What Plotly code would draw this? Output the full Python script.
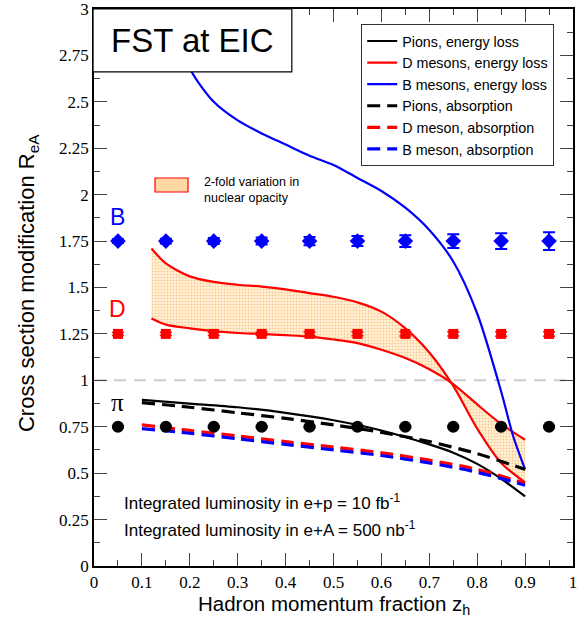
import plotly.graph_objects as go

# ---------------- data ----------------
pt_x = [0.05, 0.15, 0.25, 0.35, 0.45, 0.55, 0.65, 0.75, 0.85, 0.95]
pi_y = [0.75] * 10
pi_err = [0.006] * 10
d_y = [1.25] * 10
d_err = [0.008, 0.008, 0.009, 0.009, 0.010, 0.010, 0.011, 0.011, 0.012, 0.012]
b_y = [1.75] * 10
b_err = [0.010, 0.013, 0.016, 0.019, 0.022, 0.027, 0.032, 0.037, 0.042, 0.048]

b_eloss_x = [0.15, 0.2, 0.25, 0.3, 0.35, 0.4, 0.45, 0.5, 0.55, 0.6, 0.65, 0.7, 0.75, 0.8, 0.85, 0.875, 0.9]
b_eloss_y = [3.05, 2.68, 2.50, 2.40, 2.33, 2.27, 2.21, 2.16, 2.09, 2.02, 1.93, 1.81, 1.64, 1.36, 0.94, 0.70, 0.52]

d_band_x = [0.12, 0.15, 0.2, 0.25, 0.3, 0.35, 0.4, 0.45, 0.5, 0.55, 0.6, 0.65, 0.7, 0.75, 0.8, 0.85, 0.9]
d_band_a = [1.71, 1.63, 1.56, 1.53, 1.515, 1.505, 1.49, 1.47, 1.45, 1.42, 1.37, 1.28, 1.15, 0.97, 0.74, 0.555, 0.45]
d_band_b = [1.333, 1.30, 1.28, 1.265, 1.255, 1.25, 1.243, 1.235, 1.22, 1.20, 1.165, 1.12, 1.06, 0.98, 0.87, 0.765, 0.68]

abs_x = [0.1, 0.2, 0.3, 0.4, 0.5, 0.6, 0.7, 0.8, 0.9]
pi_eloss_x = [0.1, 0.2, 0.3, 0.4, 0.5, 0.6, 0.7, 0.75, 0.8, 0.85, 0.9]
pi_eloss_y = [0.895, 0.875, 0.855, 0.825, 0.785, 0.73, 0.655, 0.61, 0.55, 0.47, 0.375]
pi_abs_y = [0.88, 0.855, 0.825, 0.795, 0.76, 0.72, 0.67, 0.605, 0.52]
d_abs_y = [0.76, 0.73, 0.70, 0.67, 0.64, 0.61, 0.57, 0.52, 0.445]
b_abs_y = [0.74, 0.715, 0.685, 0.655, 0.625, 0.595, 0.555, 0.505, 0.435]

x_ticks = [0, 0.1, 0.2, 0.3, 0.4, 0.5, 0.6, 0.7, 0.8, 0.9, 1]
x_ticktext = ["0", "0.1", "0.2", "0.3", "0.4", "0.5", "0.6", "0.7", "0.8", "0.9", "1"]
y_ticks = [0, 0.25, 0.5, 0.75, 1, 1.25, 1.5, 1.75, 2, 2.25, 2.5, 2.75, 3]
y_ticktext = ["0", "0.25", "0.5", "0.75", "1", "1.25", "1.5", "1.75", "2", "2.25", "2.5", "2.75", "3"]

SANS = "Liberation Sans, Arial, Helvetica, sans-serif"
SERIF = "Liberation Serif, Times New Roman, Times, serif"
DASH = "13px,7px"
SPL = dict(shape="spline", smoothing=0.8)

fig = go.Figure()

# shaded band (D energy loss, 2-fold variation)
fig.add_trace(go.Scatter(x=d_band_x, y=d_band_b, mode="lines", line=dict(color="red", width=2.2, **SPL),
                         showlegend=False, hoverinfo="skip"))
fig.add_trace(go.Scatter(x=d_band_x, y=d_band_a, mode="lines", line=dict(color="red", width=2.2, **SPL),
                         fill="tonexty", fillcolor="rgba(255,214,150,0.55)",
                         fillpattern=dict(shape=".", fgcolor="#f5a030", bgcolor="rgba(255,235,200,0.6)",
                                          size=3, solidity=0.35),
                         showlegend=False, hoverinfo="skip"))

# legend traces and curves
fig.add_trace(go.Scatter(x=pi_eloss_x, y=pi_eloss_y, mode="lines", name="Pions, energy loss",
                         line=dict(color="black", width=2.2, **SPL)))
fig.add_trace(go.Scatter(x=[None], y=[None], mode="lines", name="D mesons, energy loss",
                         line=dict(color="red", width=2.2)))
fig.add_trace(go.Scatter(x=b_eloss_x, y=b_eloss_y, mode="lines", name="B mesons, energy loss",
                         line=dict(color="blue", width=2.2, **SPL)))
fig.add_trace(go.Scatter(x=abs_x, y=pi_abs_y, mode="lines", name="Pions, absorption",
                         line=dict(color="black", width=3.2, dash=DASH, **SPL)))
fig.add_trace(go.Scatter(x=abs_x, y=d_abs_y, mode="lines", name="D meson, absorption",
                         line=dict(color="red", width=3.2, dash=DASH, **SPL)))
fig.add_trace(go.Scatter(x=abs_x, y=b_abs_y, mode="lines", name="B meson, absorption",
                         line=dict(color="blue", width=3.2, dash=DASH, **SPL)))

# projected points
fig.add_trace(go.Scatter(x=pt_x, y=pi_y, mode="markers", showlegend=False,
                         marker=dict(symbol="circle", size=12, color="black"),
                         error_y=dict(type="data", array=pi_err, color="black", thickness=1.5, width=6)))
fig.add_trace(go.Scatter(x=pt_x, y=d_y, mode="markers", showlegend=False,
                         marker=dict(symbol="square", size=10, color="red"),
                         error_y=dict(type="data", array=d_err, color="red", thickness=1.5, width=6)))
fig.add_trace(go.Scatter(x=pt_x, y=b_y, mode="markers", showlegend=False,
                         marker=dict(symbol="diamond", size=12, color="blue"),
                         error_y=dict(type="data", array=b_err, color="blue", thickness=2, width=6)))

shapes = [
    dict(type="line", xref="x", yref="y", x0=0, x1=1, y0=1, y1=1,
         line=dict(color="#cccccc", width=2, dash="12px,8px"), layer="below"),
    # title box
    dict(type="rect", xref="paper", yref="paper", x0=-0.002, x1=0.413, y0=0.887, y1=1.0,
         line=dict(color="black", width=1.2), fillcolor="white", layer="above"),
    # band legend swatch
    dict(type="rect", xref="paper", yref="paper", x0=(155 - 94) / 479, x1=(188 - 94) / 479,
         y0=(566 - 192) / 557, y1=(566 - 178) / 557,
         line=dict(color="red", width=1.2), fillcolor="rgba(255,205,140,0.8)"),
]

annotations = [
    dict(text="FST at EIC", xref="paper", yref="paper", x=(192 - 94) / 479, y=(566 - 41) / 557,
         showarrow=False, font=dict(family=SANS, size=33, color="black"), xanchor="center", yanchor="middle"),
    dict(text="2-fold variation in<br>nuclear opacity", xref="paper", yref="paper",
         x=(202 - 94) / 479, y=(566 - 190) / 557, showarrow=False, align="left",
         font=dict(family=SANS, size=12.5, color="black"), xanchor="left", yanchor="middle"),
    dict(text="B", x=0.05, y=1.88, xref="x", yref="y", showarrow=False,
         font=dict(family=SANS, size=23, color="blue")),
    dict(text="D", x=0.05, y=1.385, xref="x", yref="y", showarrow=False,
         font=dict(family=SANS, size=23, color="red")),
    dict(text="π", x=0.05, y=0.88, xref="x", yref="y", showarrow=False,
         font=dict(family=SERIF, size=25, color="black")),
    dict(text="Integrated luminosity in e+p = 10 fb<sup>-1</sup>", x=0.058, y=0.345, xref="x", yref="y",
         showarrow=False, xanchor="left", font=dict(family=SANS, size=17, color="black")),
    dict(text="Integrated luminosity in e+A = 500 nb<sup>-1</sup>", x=0.058, y=0.2, xref="x", yref="y",
         showarrow=False, xanchor="left", font=dict(family=SANS, size=17, color="black")),
    dict(text="Cross section modification R<sub>eA</sub>", xref="paper", yref="paper",
         x=(28 - 94) / 479, y=0.508, textangle=-90, showarrow=False,
         font=dict(family=SANS, size=22, color="black"), xanchor="center", yanchor="middle"),
    dict(text="Hadron momentum fraction z<sub>h</sub>", xref="paper", yref="paper",
         x=0.5, y=(566 - 605) / 557, showarrow=False,
         font=dict(family=SANS, size=20.5, color="black"), xanchor="center", yanchor="middle"),
]

axis_common = dict(showgrid=False, zeroline=False, showline=True, linecolor="black", linewidth=1.5,
                   mirror="allticks", ticks="inside", ticklen=13, tickwidth=1.2, tickcolor="#444",
                   automargin=False, ticklabeloverflow="allow",
                   tickfont=dict(family=SERIF, size=17, color="black"))

fig.update_xaxes(range=[0, 1], tickvals=x_ticks, ticktext=x_ticktext,
                 minor=dict(ticks="inside", ticklen=6, dtick=0.05, tickcolor="#444", tickwidth=1.2),
                 **axis_common)
fig.update_yaxes(range=[0, 3], tickvals=y_ticks, ticktext=y_ticktext,
                 minor=dict(ticks="inside", ticklen=6, dtick=0.125, tickcolor="#444", tickwidth=1.2),
                 **axis_common)

fig.update_layout(
    width=587, height=623,
    margin=dict(l=94, r=14, t=9, b=57),
    plot_bgcolor="white", paper_bgcolor="white",
    shapes=shapes, annotations=annotations,
    legend=dict(x=(361 - 94) / 479, y=(566 - 24) / 557, xanchor="left", yanchor="top",
                traceorder="normal",
                bgcolor="white", bordercolor="#333", borderwidth=1.2,
                font=dict(family=SANS, size=14.3, color="black"), tracegroupgap=2, itemwidth=30),
)

fig.write_html("out.html")
